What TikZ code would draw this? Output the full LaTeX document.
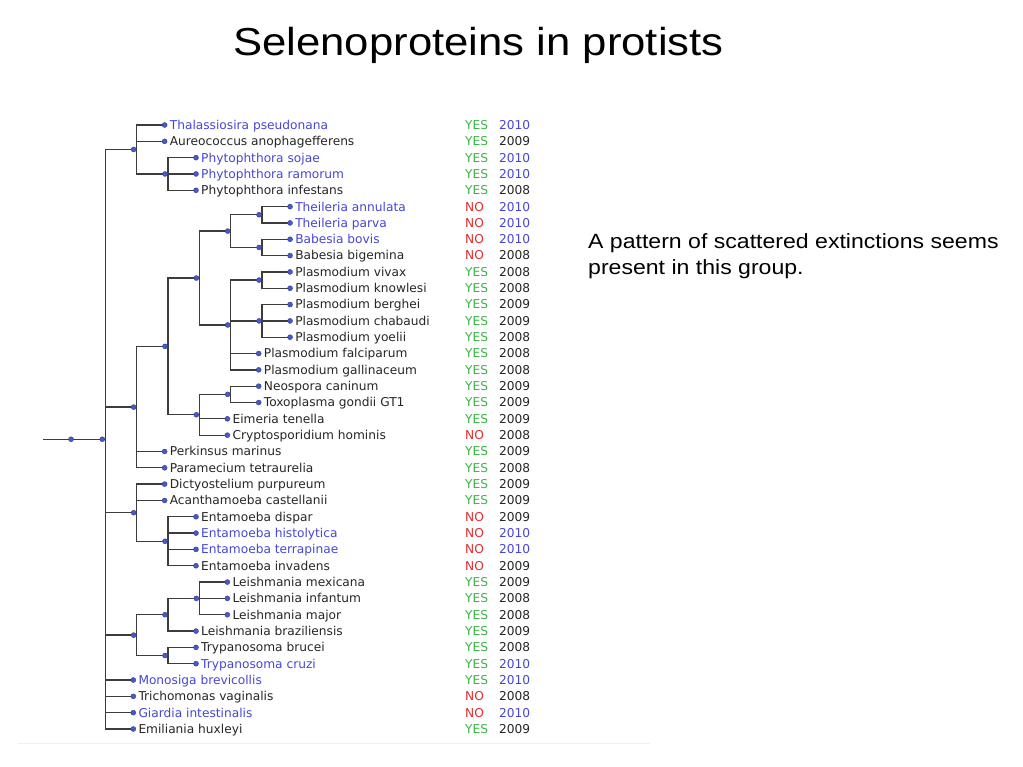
\documentclass[tikz,border=0pt]{standalone}
\usepackage{fontspec}
\setmainfont{Liberation Sans}
\newfontfamily\treefont{DejaVu Sans}
\newfontfamily\slidefont[FakeStretch=1.12]{Liberation Sans}
\usetikzlibrary{calc}

\definecolor{nameblue}{RGB}{70,70,215}
\definecolor{yesgreen}{RGB}{60,180,70}
\definecolor{nored}{RGB}{225,45,45}
\definecolor{dotblue}{RGB}{70,90,200}
\definecolor{branchgray}{RGB}{60,60,60}

% clade point: name, x of its vertical, first child, last child
\newcommand\clade[4]{\path let \p1=($(#3)!.5!(#4)$) in coordinate (#1) at (#2,\y1);}

\begin{document}
\begin{tikzpicture}
		[x=1pt, y=-1pt,
		lab/.style={anchor=base west, inner sep=0, text=black!85,
			font=\treefont\fontsize{12.2}{14}\selectfont},
		YES/.style={text=yesgreen},
		NO/.style={text=nored},
		y2010/.style={text=nameblue},
		y2009/.style={},
		y2008/.style={},
		branch/.style={draw=branchgray, line width=1.3pt},
		knob/.style={circle, inner sep=0, minimum size=5pt, fill=dotblue,
			draw=dotblue!70!black, line width=0.4pt},
		title/.style={anchor=base, inner sep=0, font=\slidefont\fontsize{39}{47}\selectfont},
		note/.style={anchor=base west, inner sep=0, align=left,
			font=\slidefont\fontsize{20.6}{26.7}\selectfont}]
		\path[fill=white, use as bounding box] (0,0) rectangle (1023,767);
		
		\node[title] (title) at (478.5,56) {Selenoproteins in protists};
		\node[note] (note) at (588,275) {A pattern of scattered extinctions seems\\present in this group.};
		
		% leaves: row / level / species / selenoproteins / year
		\foreach \i/\lv/\sp/\st/\yr in {
			1/1/Thalassiosira pseudonana/YES/2010, 2/1/Aureococcus anophagefferens/YES/2009,
			3/2/Phytophthora sojae/YES/2010, 4/2/Phytophthora ramorum/YES/2010,
			5/2/Phytophthora infestans/YES/2008, 6/5/Theileria annulata/NO/2010,
			7/5/Theileria parva/NO/2010, 8/5/Babesia bovis/NO/2010,
			9/5/Babesia bigemina/NO/2008, 10/5/Plasmodium vivax/YES/2008,
			11/5/Plasmodium knowlesi/YES/2008, 12/5/Plasmodium berghei/YES/2009,
			13/5/Plasmodium chabaudi/YES/2009, 14/5/Plasmodium yoelii/YES/2008,
			15/4/Plasmodium falciparum/YES/2008, 16/4/Plasmodium gallinaceum/YES/2008,
			17/4/Neospora caninum/YES/2009, 18/4/Toxoplasma gondii GT1/YES/2009,
			19/3/Eimeria tenella/YES/2009, 20/3/Cryptosporidium hominis/NO/2008,
			21/1/Perkinsus marinus/YES/2009, 22/1/Paramecium tetraurelia/YES/2008,
			23/1/Dictyostelium purpureum/YES/2009, 24/1/Acanthamoeba castellanii/YES/2009,
			25/2/Entamoeba dispar/NO/2009, 26/2/Entamoeba histolytica/NO/2010,
			27/2/Entamoeba terrapinae/NO/2010, 28/2/Entamoeba invadens/NO/2009,
			29/3/Leishmania mexicana/YES/2009, 30/3/Leishmania infantum/YES/2008,
			31/3/Leishmania major/YES/2008, 32/2/Leishmania braziliensis/YES/2009,
			33/2/Trypanosoma brucei/YES/2008, 34/2/Trypanosoma cruzi/YES/2010,
			35/0/Monosiga brevicollis/YES/2010, 36/0/Trichomonas vaginalis/NO/2008,
			37/0/Giardia intestinalis/NO/2010, 38/0/Emiliania huxleyi/YES/2009}{
			\pgfmathsetmacro\ry{108.676+16.324*\i}
			\coordinate (sp\i) at ({133.3+31.35*\lv},\ry);
			\node[lab,y\yr] (lab\i) at ({138.3+31.35*\lv},\ry+4.4) {\sp};
			\node[lab,\st] (st\i) at (465,\ry+4.4) {\st};
			\node[lab,y\yr] (yr\i) at (499,\ry+4.4) {\yr};
		}
		
		\clade{thei}{262.05}{sp6}{sp7}
		\clade{babe}{262.05}{sp8}{sp9}
		\clade{piro}{230.7}{thei}{babe}
		\clade{plasa}{262.05}{sp10}{sp11}
		\clade{plasb}{262.05}{sp12}{sp14}
		\clade{plas}{230.7}{plasa}{sp16}
		\clade{acon}{199.35}{piro}{plas}
		\clade{sarc}{230.7}{sp17}{sp18}
		\clade{cocc}{199.35}{sarc}{sp20}
		\clade{api}{168}{acon}{cocc}
		\clade{alv}{136.65}{api}{sp22}
		\clade{phyt}{168}{sp3}{sp5}
		\clade{stram}{136.65}{sp1}{phyt}
		\clade{enta}{168}{sp25}{sp28}
		\clade{amoe}{136.65}{sp23}{enta}
		\clade{leia}{199.35}{sp29}{sp31}
		\clade{leish}{168}{leia}{sp32}
		\clade{tryp}{168}{sp33}{sp34}
		\clade{kine}{136.65}{leish}{tryp}
		\clade{root}{105.3}{stram}{sp38}
		\coordinate (base) at ([xshift=-62.3pt]root);
		
		\draw[branch] (base) -- (root);
		\foreach \p/\c in {thei/sp6, thei/sp7, babe/sp8, babe/sp9, piro/thei, piro/babe,
			plasa/sp10, plasa/sp11, plasb/sp12, plasb/sp13, plasb/sp14,
			plas/plasa, plas/plasb, plas/sp15, plas/sp16, acon/piro, acon/plas,
			sarc/sp17, sarc/sp18, cocc/sarc, cocc/sp19, cocc/sp20,
			api/acon, api/cocc, alv/api, alv/sp21, alv/sp22,
			phyt/sp3, phyt/sp4, phyt/sp5, stram/sp1, stram/sp2, stram/phyt,
			enta/sp25, enta/sp26, enta/sp27, enta/sp28, amoe/sp23, amoe/sp24, amoe/enta,
			leia/sp29, leia/sp30, leia/sp31, leish/leia, leish/sp32,
			tryp/sp33, tryp/sp34, kine/leish, kine/tryp,
			root/stram, root/alv, root/amoe, root/kine,
			root/sp35, root/sp36, root/sp37, root/sp38}
			\draw[branch] (\p) |- (\c);
		
		\foreach \i in {1,...,38}
			\node[knob] at (sp\i) {};
		\foreach \n in {thei,babe,piro,plasa,plasb,plas,acon,sarc,cocc,api,alv,
			phyt,stram,enta,amoe,leia,leish,tryp,kine,root}
			\node[knob] at ([xshift=-3pt]\n) {};
		\node[knob] at ($(base)!.45!(root)$) {};
		
		\draw[gray!12, line width=1pt] (18,743) -- (650,743);
	\end{tikzpicture}
\end{document}
